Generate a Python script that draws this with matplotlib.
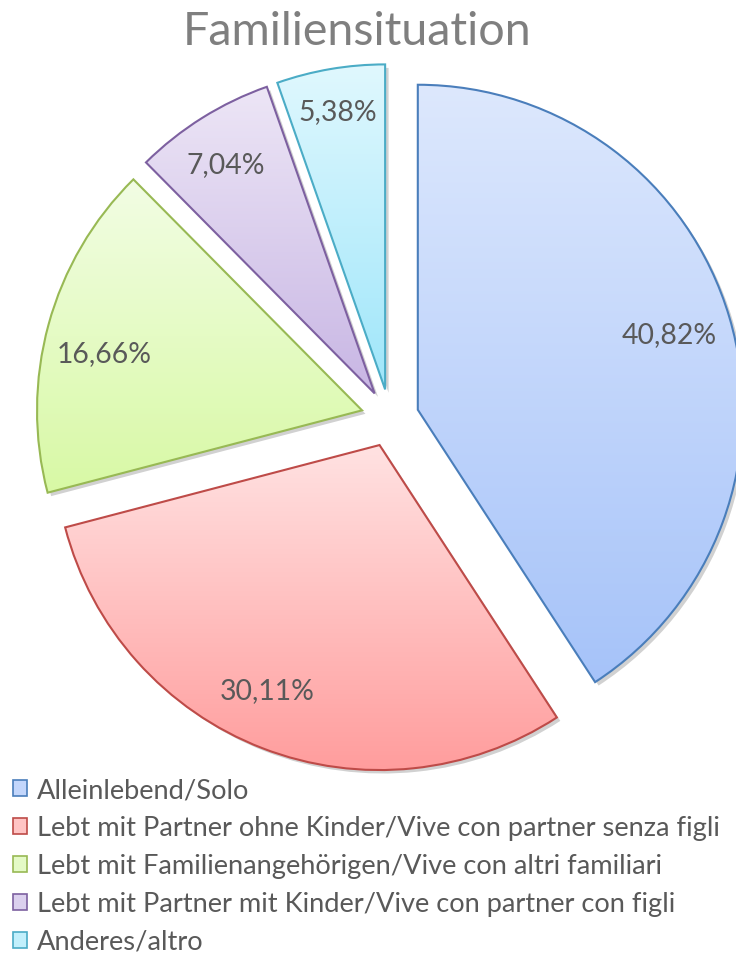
import matplotlib
matplotlib.use('Agg')
import matplotlib.pyplot as plt
import matplotlib.patches as mpatches
import matplotlib.patheffects as pe
import numpy as np
from matplotlib.colors import to_rgb

plt.rcParams['font.family'] = ['Lato', 'DejaVu Sans']

# ---------------- data ----------------
title = "Familiensituation"
categories = [
    "Alleinlebend/Solo",
    "Lebt mit Partner ohne Kinder/Vive con partner senza figli",
    "Lebt mit Familienangehörigen/Vive con altri familiari",
    "Lebt mit Partner mit Kinder/Vive con partner con figli",
    "Anderes/altro",
]
values = [40.82, 30.11, 16.66, 7.04, 5.38]
value_labels = ["40,82%", "30,11%", "16,66%", "7,04%", "5,38%"]

# ---------------- style ----------------
edge_colors = ["#4a7ebb", "#be4b48", "#98b954", "#7d60a0", "#4bacc6"]
top_colors = ["#dde8fd", "#ffe2e2", "#f2fde4", "#ede6f6", "#e0f8fe"]
bottom_colors = ["#a6c3f9", "#ff9d9d", "#d8f9a5", "#c8b6e4", "#9fe6fa"]
mid_colors = ["#c3d6fb", "#ffc4c4", "#e4fac6", "#dbd0ee", "#c2f0fc"]
text_color = "#595959"
title_color = "#7f7f7f"
label_dist = [0.81, 0.826, 0.815, 0.843, 0.872]
label_rot = [0.4, -3.5, 2.5, 0.8, 0.0]

W, H = 736, 965
fig = plt.figure(figsize=(W / 100, H / 100), dpi=100)
ax = fig.add_axes([0, 0, 1, 1])

center = (390, H - 418)
R = 325
expl = 29

wedges, _ = ax.pie(
    values, radius=R, center=center, explode=[expl] * len(values),
    startangle=90, counterclock=False, colors=["white"] * len(values),
    wedgeprops=dict(linewidth=0, path_effects=[
        pe.SimplePatchShadow(offset=(2.5, -2.5), shadow_rgbFace="k", alpha=0.18),
        pe.Normal()]),
)

for w, tc, bc, ec in zip(wedges, top_colors, bottom_colors, edge_colors):
    ext = w.get_path().get_extents()
    n = 256
    t = np.linspace(0, 1, n)[:, None]
    grad = (1 - t) * np.array(to_rgb(tc)) + t * np.array(to_rgb(bc))
    img = grad[:, None, :]
    im = ax.imshow(img, extent=(ext.x0, ext.x1, ext.y0, ext.y1), origin="upper",
                   aspect="auto", interpolation="bilinear", zorder=2)
    im.set_clip_path(w)
    ax.add_patch(mpatches.Wedge(w.center, w.r, w.theta1, w.theta2, fill=False,
                                edgecolor=ec, linewidth=1.5, zorder=3))

fig.canvas.draw()
renderer = fig.canvas.get_renderer()


def fitted_size(s, target_w, base=20):
    t = fig.text(0, 0, s, fontsize=base)
    wpx = t.get_window_extent(renderer).width
    t.remove()
    return base * target_w / wpx


lab_fs = fitted_size("40,82%", 95)
lab_px = lab_fs * 100 / 72
for w, lab, d, rot in zip(wedges, value_labels, label_dist, label_rot):
    a = np.deg2rad((w.theta1 + w.theta2) / 2 + rot)
    x = w.center[0] + d * w.r * np.cos(a)
    y = w.center[1] + d * w.r * np.sin(a)
    ax.text(x, y - 0.36 * lab_px, lab, ha="center", va="baseline",
            fontsize=lab_fs, color=text_color, zorder=4)

ax.set_xlim(0, W)
ax.set_ylim(0, H)
ax.set_aspect("auto")
ax.axis("off")

title_fs = fitted_size(title, 351)
fig.text(357.5 / W, 1 - 45 / H, title, ha="center", va="baseline",
         fontsize=title_fs, color=title_color)

leg_fs = fitted_size(categories[1], 687)
handles = [mpatches.Patch(facecolor=mc, edgecolor=ec, linewidth=1.2)
           for mc, ec in zip(mid_colors, edge_colors)]
fs_px = leg_fs * 100 / 72
leg = fig.legend(handles, categories, loc="upper left",
                 bbox_to_anchor=(13 / W, 1 - 778 / H), frameon=False,
                 fontsize=leg_fs, handlelength=14 / fs_px, handleheight=14 / fs_px,
                 handletextpad=10 / fs_px, labelspacing=0.27 + 5.6 / fs_px,
                 borderpad=0, borderaxespad=0, labelcolor=text_color)

fig.savefig("out.png", dpi=100)
